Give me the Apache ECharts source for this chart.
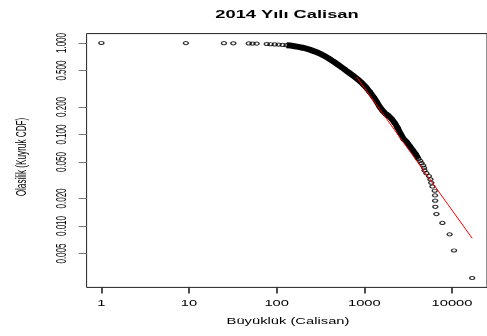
<!DOCTYPE html>
<html><head><meta charset="utf-8">
<script src="https://cdn.jsdelivr.net/npm/echarts@6/dist/echarts.min.js"></script>
<style>html,body{margin:0;padding:0;background:#fff}#c{width:487px;height:336px}</style>
</head><body><div id="c"></div>
<script>
const titleText = '2014 Yılı Calisan';
const xAxisName = 'Büyüklük (Calisan)';
const yAxisName = 'Olasilik (Kuyruk CDF)';
const xTicks = [1, 10, 100, 1000, 10000];
const xTickLabels = ['1', '10', '100', '1000', '10000'];
const yTicks = [1, 0.5, 0.2, 0.1, 0.05, 0.02, 0.01, 0.005];
const yTickLabels = ['1.000', '0.500', '0.200', '0.100', '0.050', '0.020', '0.010', '0.005'];

// isolated points at the top
const headX = [1, 9.2, 25, 32, 48, 53, 59, 77, 85, 95, 105, 117];
const headP = [1, 0.997, 0.995, 0.992, 0.989, 0.986, 0.984, 0.975, 0.970, 0.965, 0.960, 0.953];
// dense body of the curve
const bodyX = [129.5, 143.7, 159.5, 177.0, 196.5, 218.1, 242.1, 268.7, 298.2, 331.0, 367.4, 407.7, 452.5, 502.3, 557.5, 618.8, 686.9, 762.4, 846.2, 939.3, 1042, 1157, 1284, 1389, 1502, 1624, 1756, 1899, 2054, 2221, 2402, 2597, 2808, 3037, 3284, 3551, 3840, 4153];
const bodyP = [0.946, 0.937, 0.923, 0.906, 0.888, 0.866, 0.841, 0.811, 0.780, 0.743, 0.703, 0.662, 0.620, 0.578, 0.538, 0.500, 0.464, 0.431, 0.399, 0.365, 0.330, 0.291, 0.254, 0.227, 0.200, 0.181, 0.1675, 0.1593, 0.1477, 0.1335, 0.1178, 0.1013, 0.0893, 0.0828, 0.0749, 0.0677, 0.0612, 0.0540];
// sparse tail
const tailX = [4340, 4490, 4680, 4800, 4860, 5100, 5460, 5660, 5800, 5980, 6350, 6400, 6420, 6450, 6640, 7760, 9390, 10540, 16980];
const tailP = [0.0514, 0.0486, 0.0459, 0.0432, 0.0405, 0.0378, 0.0351, 0.0324, 0.0297, 0.0270, 0.0243, 0.0216, 0.0189, 0.0162, 0.0135, 0.0108, 0.0081, 0.0054, 0.0027];
// fitted power-law line
const fitX = [818, 16980];
const fitP = [0.423, 0.00734];

const pair = (xs, ys) => xs.map((x, i) => [x, ys[i]]);
const FONT = '"Liberation Sans", Arial, sans-serif';

const chart = echarts.init(document.getElementById('c'), null, {renderer: 'canvas'});
chart.setOption({
  animation: false,
  backgroundColor: '#fff',
  grid: {left: 86.6, right: -3, top: 33.6, bottom: 48.6, show: true, borderColor: '#222', borderWidth: 1, backgroundColor: 'transparent'},
  xAxis: {
    type: 'log', logBase: 10, min: 0.678, max: 25060,
    axisLine: {show: false},
    axisTick: {show: true, customValues: xTicks, length: 6, lineStyle: {color: '#222', width: 1.6}},
    axisLabel: {show: false},
    splitLine: {show: false}, minorTick: {show: false}
  },
  yAxis: {
    type: 'log', logBase: 10, min: 0.002133, max: 1.2667,
    axisLine: {show: false},
    axisTick: {show: true, customValues: yTicks, length: 8, lineStyle: {color: '#777', width: 1}},
    axisLabel: {show: false},
    splitLine: {show: false}, minorTick: {show: false}
  },
  series: [
    {type: 'line', data: pair(bodyX, bodyP), symbol: 'none', lineStyle: {color: '#000', width: 6}, z: 2},
    {type: 'scatter', data: pair(headX, headP).concat(pair(bodyX, bodyP), pair(tailX, tailP)),
     symbol: 'circle', symbolSize: [5, 3.2],
     itemStyle: {color: 'rgba(0,0,0,0)', borderColor: '#000', borderWidth: 1.2}, z: 3},
    {type: 'line', data: pair(fitX, fitP), symbol: 'none', lineStyle: {color: '#f00', width: 1}, z: 4}
  ]
});

const cx = v => chart.convertToPixel({xAxisIndex: 0}, v);
const cy = v => chart.convertToPixel({yAxisIndex: 0}, v);
const g = [];
g.push({type: 'text', x: 287, y: 15.3, scaleX: 1.83,
  style: {text: titleText, font: 'bold 10px ' + FONT, fill: '#000', align: 'center', verticalAlign: 'middle'}});
xTicks.forEach((v, i) => g.push({type: 'text', x: cx(v), y: 303.5, scaleX: 1.8,
  style: {text: xTickLabels[i], font: '8.2px ' + FONT, fill: '#000', align: 'center', verticalAlign: 'middle'}}));
g.push({type: 'text', x: 288, y: 322, scaleX: 1.8,
  style: {text: xAxisName, font: '8.2px ' + FONT, fill: '#000', align: 'center', verticalAlign: 'middle'}});
yTicks.forEach((v, i) => g.push({type: 'text', x: 61.7, y: cy(v), rotation: Math.PI / 2, scaleY: 1.8,
  style: {text: yTickLabels[i], font: '8px ' + FONT, fill: '#000', align: 'center', verticalAlign: 'middle'}}));
g.push({type: 'text', x: 22, y: 157, rotation: Math.PI / 2, scaleY: 1.8,
  style: {text: yAxisName, font: '8.2px ' + FONT, fill: '#000', align: 'center', verticalAlign: 'middle'}});
chart.setOption({graphic: g});
</script>
</body></html>
